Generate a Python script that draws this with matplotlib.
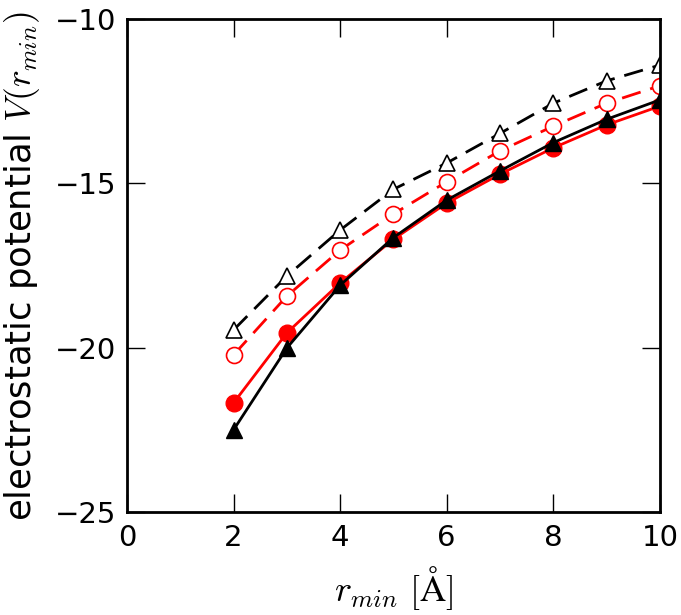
import matplotlib
matplotlib.use('Agg')
import matplotlib.pyplot as plt

r_min = [2, 3, 4, 5, 6, 7, 8, 9, 10]

# filled symbols, solid lines
v_red_filled = [-21.68, -19.55, -18.03, -16.70, -15.60, -14.72, -13.92, -13.22, -12.65]
v_black_filled = [-22.50, -20.01, -18.10, -16.65, -15.51, -14.62, -13.76, -13.05, -12.46]
# open symbols, dashed lines
v_red_open = [-20.22, -18.43, -17.03, -15.93, -14.95, -14.01, -13.26, -12.56, -12.03]
v_black_open = [-19.46, -17.82, -16.42, -15.18, -14.38, -13.48, -12.56, -11.88, -11.40]

plt.rcParams['mathtext.fontset'] = 'cm'
plt.rcParams['font.family'] = 'DejaVu Sans'

fig = plt.figure(figsize=(6.81, 6.15), dpi=100)
ax = fig.add_axes([0.1865, 0.1675, 0.7825, 0.8015])

ax.plot(r_min, v_red_open, '--', color='red', lw=2, dashes=(7, 3.6),
        marker='o', ms=11.5, mfc='white', mec='red', mew=1.2)
ax.plot(r_min, v_black_open, '--', color='black', lw=2, dashes=(7, 3.6),
        marker='^', ms=12, mfc='white', mec='black', mew=1.2)
ax.plot(r_min, v_red_filled, '-', color='red', lw=2,
        marker='o', ms=12, mfc='red', mec='red')
ax.plot(r_min, v_black_filled, '-', color='black', lw=2,
        marker='^', ms=12, mfc='black', mec='black')

ax.set_xlim(0, 10)
ax.set_ylim(-25, -10)
ax.set_xticks([0, 2, 4, 6, 8, 10])
ax.set_yticks([-25, -20, -15, -10])
ax.tick_params(direction='in', length=13, width=1, top=True, right=True,
               labelsize=21)
ax.tick_params(axis='x', pad=9)
ax.tick_params(axis='y', pad=8)
for s in ax.spines.values():
    s.set_linewidth(2)

ax.set_xlabel(r'$r_{min}\ [\mathrm{\AA}]$', fontsize=26, labelpad=8)
ax.set_ylabel(r'electrostatic potential $V(r_{min})$', fontsize=25.5, labelpad=9)

fig.savefig('out.png', dpi=100)
